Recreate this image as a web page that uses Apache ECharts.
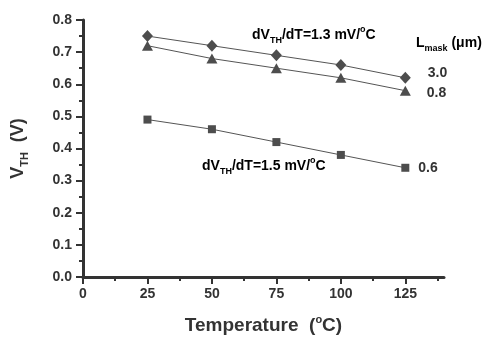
<!DOCTYPE html>
<html>
<head>
<meta charset="utf-8">
<script src="https://cdn.jsdelivr.net/npm/echarts@6/dist/echarts.min.js"></script>
<style>
  html, body { margin: 0; padding: 0; background: #fff; }
  #chart { width: 496px; height: 338px; }
</style>
</head>
<body>
<div id="chart"></div>
<script>
const temperatures = [25, 50, 75, 100, 125];
const vth30 = [0.75, 0.72, 0.69, 0.66, 0.62];
const vth08 = [0.72, 0.68, 0.65, 0.62, 0.58];
const vth06 = [0.49, 0.46, 0.42, 0.38, 0.34];
const seriesNames = ['3.0', '0.8', '0.6'];
const xMajorTicks = [0, 25, 50, 75, 100, 125];
const xMinorTicks = [12.5, 37.5, 62.5, 87.5, 112.5, 137.5];

const INK = '#333333';
const MARK = '#4d4d4d';
const FONT = '"Liberation Sans", Arial, sans-serif';

const chart = echarts.init(document.getElementById('chart'), null, { renderer: 'canvas' });

function pairs(values) {
  return values.map((v, i) => [temperatures[i], v]);
}

// label the last point of a series with its L_mask value
function endLabelled(values, text, distance, offsetY) {
  const data = pairs(values);
  const last = data.length - 1;
  data[last] = {
    value: data[last],
    label: {
      show: true,
      position: 'right',
      distance: distance,
      offset: [0, offsetY],
      formatter: text,
      color: INK,
      fontFamily: FONT,
      fontWeight: 'bold',
      fontSize: 14,
    },
  };
  return data;
}

const richSubSup = {
  sub: { fontSize: 9, fontWeight: 'bold', fontFamily: FONT, color: INK, verticalAlign: 'bottom', lineHeight: 9 },
  sup: { fontSize: 9, fontWeight: 'bold', fontFamily: FONT, color: INK, verticalAlign: 'top', lineHeight: 9 },
  base: { fontSize: 14, fontWeight: 'bold', fontFamily: FONT, color: INK, lineHeight: 20 },
};

function makeLine(name, data, symbol, size) {
  return {
    name: name,
    type: 'line',
    data: data,
    symbol: symbol,
    symbolSize: size,
    lineStyle: { color: '#555', width: 1 },
    itemStyle: { color: MARK },
    emphasis: { disabled: true },
  };
}

const option = {
  animation: false,
  backgroundColor: '#fff',
  grid: { left: 83, right: 52, top: 20, bottom: 61, outerBoundsMode: 'none', containLabel: false },
  xAxis: [
    {
      type: 'value',
      min: 0,
      max: 140,
      position: 'bottom',
      name: '{big|Temperature  (}{sup|o}{big|C)}',
      nameLocation: 'middle',
      nameGap: 37,
      nameTextStyle: {
        rich: {
          big: { fontSize: 19, fontWeight: 'bold', fontFamily: FONT, color: INK, lineHeight: 24 },
          sup: { fontSize: 11, fontWeight: 'bold', fontFamily: FONT, color: INK, verticalAlign: 'top', lineHeight: 12 },
        },
      },
      axisLine: { show: true, lineStyle: { color: INK, width: 3 } },
      axisTick: { show: true, length: 7, lineStyle: { color: INK, width: 2 }, customValues: xMajorTicks },
      axisLabel: {
        color: INK,
        fontFamily: FONT,
        fontWeight: 'bold',
        fontSize: 14,
        margin: 10,
        customValues: xMajorTicks,
      },
      splitLine: { show: false },
    },
    {
      type: 'value',
      min: 0,
      max: 140,
      position: 'bottom',
      axisLine: { show: false },
      axisTick: { show: true, length: 4, lineStyle: { color: INK, width: 2 }, customValues: xMinorTicks },
      axisLabel: { show: false },
      splitLine: { show: false },
    },
  ],
  yAxis: {
    type: 'value',
    min: 0,
    max: 0.8,
    interval: 0.1,
    name: '{v|V}{sub|TH}{v|  (V)}',
    nameLocation: 'middle',
    nameGap: 53,
    nameTextStyle: {
      rich: {
        v: { fontSize: 18, fontWeight: 'bold', fontFamily: FONT, color: INK, lineHeight: 24 },
        sub: { fontSize: 11, fontWeight: 'bold', fontFamily: FONT, color: INK, verticalAlign: 'bottom', lineHeight: 11 },
      },
    },
    axisLine: { show: true, lineStyle: { color: INK, width: 3 } },
    axisTick: { show: true, length: 7, lineStyle: { color: INK, width: 2 } },
    minorTick: { show: true, splitNumber: 2, length: 4, lineStyle: { color: INK, width: 2 } },
    axisLabel: {
      color: INK,
      fontFamily: FONT,
      fontWeight: 'bold',
      fontSize: 14,
      margin: 11,
      formatter: (v) => v.toFixed(1),
    },
    splitLine: { show: false },
  },
  graphic: [
    {
      type: 'text',
      left: 252,
      top: 25,
      style: {
        text: '{base|dV}{sub|TH}{base|/dT=1.3 mV/}{sup|o}{base|C}',
        rich: richSubSup,
      },
    },
    {
      type: 'text',
      left: 202,
      top: 156,
      style: {
        text: '{base|dV}{sub|TH}{base|/dT=1.5 mV/}{sup|o}{base|C}',
        rich: richSubSup,
      },
    },
    {
      type: 'text',
      left: 416,
      top: 36,
      style: {
        text: '{base|L}{sub|mask}{base| (\u03bcm)}',
        rich: richSubSup,
      },
    },
  ],
  series: [
    makeLine(seriesNames[0], endLabelled(vth30, seriesNames[0], 17, -5), 'diamond', [11, 12]),
    makeLine(seriesNames[1], endLabelled(vth08, seriesNames[1], 16, 2), 'triangle', [11, 10]),
    makeLine(seriesNames[2], endLabelled(vth06, seriesNames[2], 9, 0), 'rect', 8),
  ],
};

chart.setOption(option);
</script>
</body>
</html>
